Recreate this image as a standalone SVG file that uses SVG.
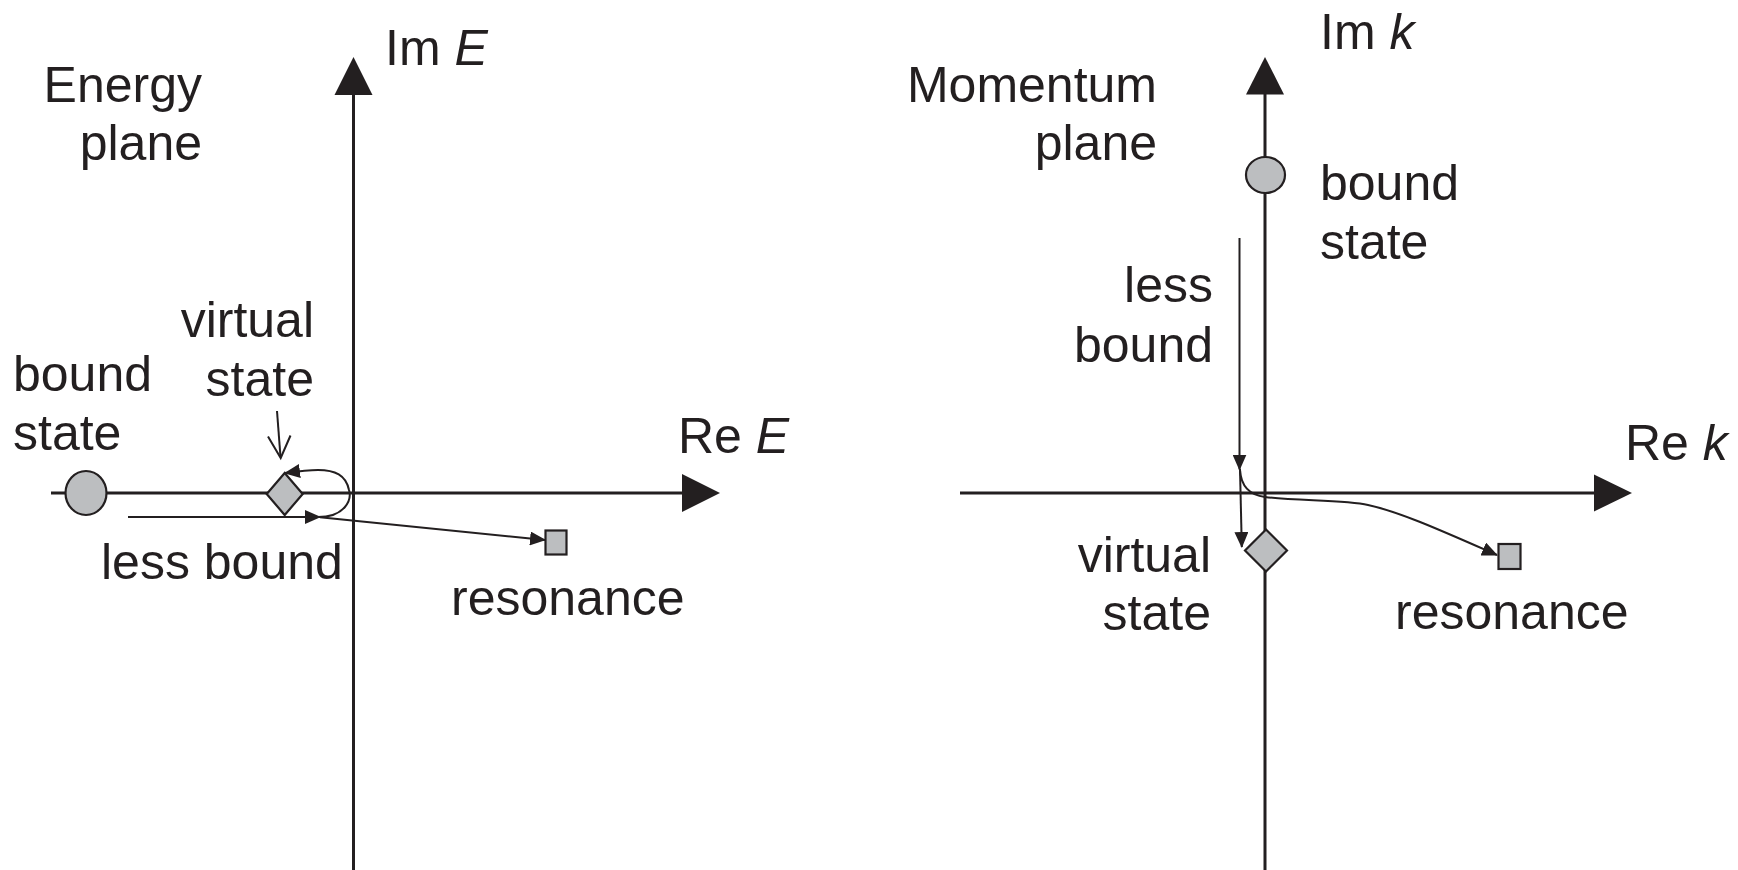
<svg xmlns="http://www.w3.org/2000/svg" width="1738" height="870" viewBox="0 0 1738 870">
<style>
  text { font-family: "Liberation Sans", Arial, sans-serif; font-size: 50px; fill: #231f20; }
  .axis { stroke: #231f20; stroke-width: 3; fill: none; }
  .head { fill: #231f20; stroke: none; }
  .conn { stroke: #231f20; stroke-width: 2; fill: none; }
  .node { fill: #bcbec0; stroke: #231f20; stroke-width: 2.2; }
  .it { font-style: italic; }
</style>
<defs>
  <marker id="arr" viewBox="0 0 16 14" refX="15" refY="7" markerWidth="16" markerHeight="14" markerUnits="userSpaceOnUse" orient="auto">
    <path d="M0,0 L16,7 L0,14 Z" fill="#231f20"/>
  </marker>
</defs>
<rect width="1738" height="870" fill="#ffffff"/>

<g id="axes">
  <line class="axis" x1="353.5" y1="93" x2="353.5" y2="870"/>
  <polygon class="head" points="353.5,57 334.5,95 372.5,95"/>
  <line class="axis" x1="51" y1="493" x2="684" y2="493"/>
  <polygon class="head" points="720,493 682,474 682,512"/>
  <line class="axis" x1="1265" y1="93" x2="1265" y2="870"/>
  <polygon class="head" points="1265,57 1246,94.5 1284,94.5"/>
  <line class="axis" x1="960" y1="493" x2="1596" y2="493"/>
  <polygon class="head" points="1632,493 1594,474.5 1594,511.5"/>
</g>

<g id="connectors">
  <line class="conn" x1="128" y1="517" x2="320" y2="517" marker-end="url(#arr)"/>
  <line class="conn" x1="320" y1="517.3" x2="545" y2="540" marker-end="url(#arr)"/>
  <path class="conn" d="M318,517 C345,517 352,500 349,490 C346,475 335,470 318,470 C310,470 300,471 285,473" marker-end="url(#arr)"/>
  <line class="conn" x1="277" y1="411" x2="280.5" y2="457" stroke-width="2.6"/>
  <polyline class="conn" points="268,436.5 280.7,458 290.5,435.5" stroke-width="3.6" stroke-linejoin="miter"/>
  <line class="conn" x1="1239.5" y1="238" x2="1239.5" y2="469.5" marker-end="url(#arr)"/>
  <path class="conn" d="M1240,469 L1241.8,547" marker-end="url(#arr)"/>
  <path class="conn" d="M1240,470 C1241,486 1249,495 1265,497 C1295,501 1345,500 1368,505 C1400,512 1440,530 1497,555" marker-end="url(#arr)"/>
</g>

<g id="left-bound"><ellipse class="node" cx="86" cy="493" rx="20.5" ry="22"/></g>
<g id="left-virtual"><polygon class="node" points="284.7,473 302.7,494 284.7,515 266.7,494"/></g>
<g id="left-resonance"><rect class="node" x="545.5" y="530.5" width="21" height="24"/></g>
<g id="right-bound"><ellipse class="node" cx="1265.5" cy="175" rx="19.5" ry="18"/></g>
<g id="right-virtual"><polygon class="node" points="1266,529.5 1287,550.5 1266,571.5 1245,550.5"/></g>
<g id="right-resonance"><rect class="node" x="1498.5" y="544" width="22" height="25"/></g>

<g id="labels-left">
  <text x="202" y="102" text-anchor="end">Energy</text>
  <text x="202" y="160" text-anchor="end">plane</text>
  <text x="385" y="65">Im <tspan class="it">E</tspan></text>
  <text x="678" y="453">Re <tspan class="it">E</tspan></text>
  <text x="13" y="391">bound</text>
  <text x="13" y="450">state</text>
  <text x="314" y="337" text-anchor="end">virtual</text>
  <text x="314" y="396" text-anchor="end">state</text>
  <text x="101" y="579">less bound</text>
  <text x="451" y="615">resonance</text>
</g>

<g id="labels-right">
  <text x="1157" y="102" text-anchor="end">Momentum</text>
  <text x="1157" y="160" text-anchor="end">plane</text>
  <text x="1320" y="49">Im <tspan class="it">k</tspan></text>
  <text x="1625" y="460">Re <tspan class="it">k</tspan></text>
  <text x="1320" y="200">bound</text>
  <text x="1320" y="259">state</text>
  <text x="1213" y="302" text-anchor="end">less</text>
  <text x="1213" y="362" text-anchor="end">bound</text>
  <text x="1211" y="572" text-anchor="end">virtual</text>
  <text x="1211" y="630" text-anchor="end">state</text>
  <text x="1395" y="629">resonance</text>
</g>
</svg>
